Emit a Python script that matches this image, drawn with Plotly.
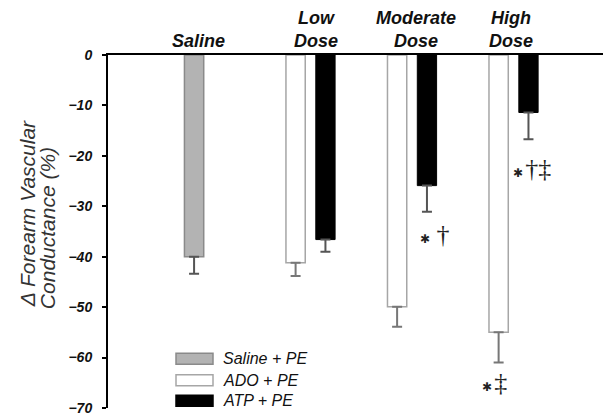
import plotly.graph_objects as go

# ---- data ----
categories = ["Saline", "Low", "Moderate", "High"]
category_labels = ["Saline", "Low<br>Dose", "Moderate<br>Dose", "High<br>Dose"]

saline_x = ["Saline"]
saline_vals = [-40.0]
saline_err = [3.4]

dose_x = ["Low", "Moderate", "High"]
ado_vals = [-41.2, -49.9, -55.0]
ado_err = [2.6, 4.0, 6.0]
atp_vals = [-36.6, -25.9, -11.4]
atp_err = [2.4, 5.2, 5.3]

# significance symbols: category, y value, symbol list
sig_x = ["Moderate", "High", "High"]
sig_y = [-35.6, -22.6, -65.0]
sig_symbols = [["*", "†"], ["*", "†", "‡"], ["*", "‡"]]
sig_offset = [0.39, 0.385, -0.045]

legend_names = ["Saline + PE", "ADO + PE", "ATP + PE"]

# ---- page geometry (reference pixels; browser body margin is 8px) ----
BODY = 8
W, H = 611 - BODY, 416 - BODY
L = 108 - BODY
T = 55 - BODY
B = H - (407.7 - BODY)
R = 0
BW = 0.19
OFF_A = -0.242
OFF_B = 0.052

pw = W - L - R
ph = H - T - B


def px2paper_x(px):
    return (px - BODY - L) / pw


def px2paper_y(py):
    return 1 - (py - BODY - T) / ph


fig = go.Figure()
fig.add_trace(go.Bar(
    x=saline_x, y=saline_vals, width=BW, offset=OFF_A,
    marker=dict(color="#b3b3b3", line=dict(color="#8a8a8a", width=1.5)),
    error_y=dict(type="data", symmetric=False, array=[0] * len(saline_err),
                 arrayminus=saline_err, color="#555555", thickness=2, width=5),
    showlegend=False))
fig.add_trace(go.Bar(
    x=dose_x, y=ado_vals, width=BW, offset=OFF_A,
    marker=dict(color="white", line=dict(color="#a6a6a6", width=1.5)),
    error_y=dict(type="data", symmetric=False, array=[0] * len(ado_err),
                 arrayminus=ado_err, color="#777777", thickness=2, width=5),
    showlegend=False))
fig.add_trace(go.Bar(
    x=dose_x, y=atp_vals, width=BW, offset=OFF_B,
    marker=dict(color="black", line=dict(color="black", width=1)),
    error_y=dict(type="data", symmetric=False, array=[0] * len(atp_err),
                 arrayminus=atp_err, color="#555555", thickness=2, width=5),
    showlegend=False))


# significance markers
def sym_html(s):
    if s == "*":
        return "<span style='font-family:DejaVu Sans;font-size:12px'>✱</span>"
    return s


sig_sep = [" ", "&#8202;", "&#8202;"]
for xx, yy, syms, oo, sep in zip(sig_x, sig_y, sig_symbols, sig_offset, sig_sep):
    txt = sym_html(syms[0]) + sep + "".join(syms[1:])
    fig.add_annotation(x=categories.index(xx) + oo, y=yy, text=txt, showarrow=False,
                       font=dict(family="Liberation Serif", size=26, color="#222"),
                       xanchor="right", yanchor="middle")

# category labels at the top
label_shift = [-11, 5, 4, -3]
for i, (c, lab) in enumerate(zip(categories, category_labels)):
    fig.add_annotation(x=i, y=0, yref="y", text="<b><i>" + lab + "</i></b>",
                       showarrow=False, yanchor="bottom", xanchor="center",
                       xshift=label_shift[i], yshift=2,
                       font=dict(family="Liberation Sans", size=18, color="#111"))

# y-axis title (two tightly spaced lines)
title_lines = ["Δ Forearm Vascular", "Conductance (%)"]
title_x = [27, 47]
title_y = [214, 228]
for t, tx, ty in zip(title_lines, title_x, title_y):
    fig.add_annotation(x=px2paper_x(tx), xref="paper", y=px2paper_y(ty), yref="paper",
                       text="<i>" + t + "</i>", textangle=-90,
                       showarrow=False, xanchor="center", yanchor="middle",
                       font=dict(family="Liberation Sans", size=21, color="#333"))

# legend (drawn manually as wide swatches)
leg_fill = ["#b3b3b3", "white", "black"]
leg_line = ["#8a8a8a", "#a6a6a6", "black"]
leg_y = [358.5, 380, 400.5]
for name, fc, lc, yy in zip(legend_names, leg_fill, leg_line, leg_y):
    fig.add_shape(type="rect", xref="paper", yref="paper",
                  x0=px2paper_x(176), x1=px2paper_x(213),
                  y0=px2paper_y(yy + 5.5), y1=px2paper_y(yy - 5.5),
                  fillcolor=fc, line=dict(color=lc, width=1.5))
    fig.add_annotation(x=px2paper_x(221), xref="paper", y=px2paper_y(yy), yref="paper",
                       text="<i>" + name + "</i>", showarrow=False,
                       xanchor="left", yanchor="middle",
                       font=dict(family="Liberation Sans", size=16, color="#111"))

fig.update_layout(
    width=W, height=H,
    margin=dict(l=L, r=R, t=T, b=B, pad=0),
    paper_bgcolor="white", plot_bgcolor="white",
    barmode="overlay",
    showlegend=False,
    xaxis=dict(type="category", categoryarray=categories, range=[-0.995, 3.96],
               side="top", showline=True, linecolor="black", linewidth=2,
               showticklabels=False, ticks="", showgrid=False, zeroline=False),
    yaxis=dict(range=[-70, 0], tickvals=[0, -10, -20, -30, -40, -50, -60, -70],
               showline=True, linecolor="black", linewidth=2,
               ticks="outside", ticklen=4, tickwidth=1.5, tickcolor="black",
               showgrid=False, zeroline=False, ticklabelstandoff=7,
               tickfont=dict(family="Liberation Sans", size=14, color="#111",
                             weight="bold", style="italic")),
)

fig.write_html("out.html")
